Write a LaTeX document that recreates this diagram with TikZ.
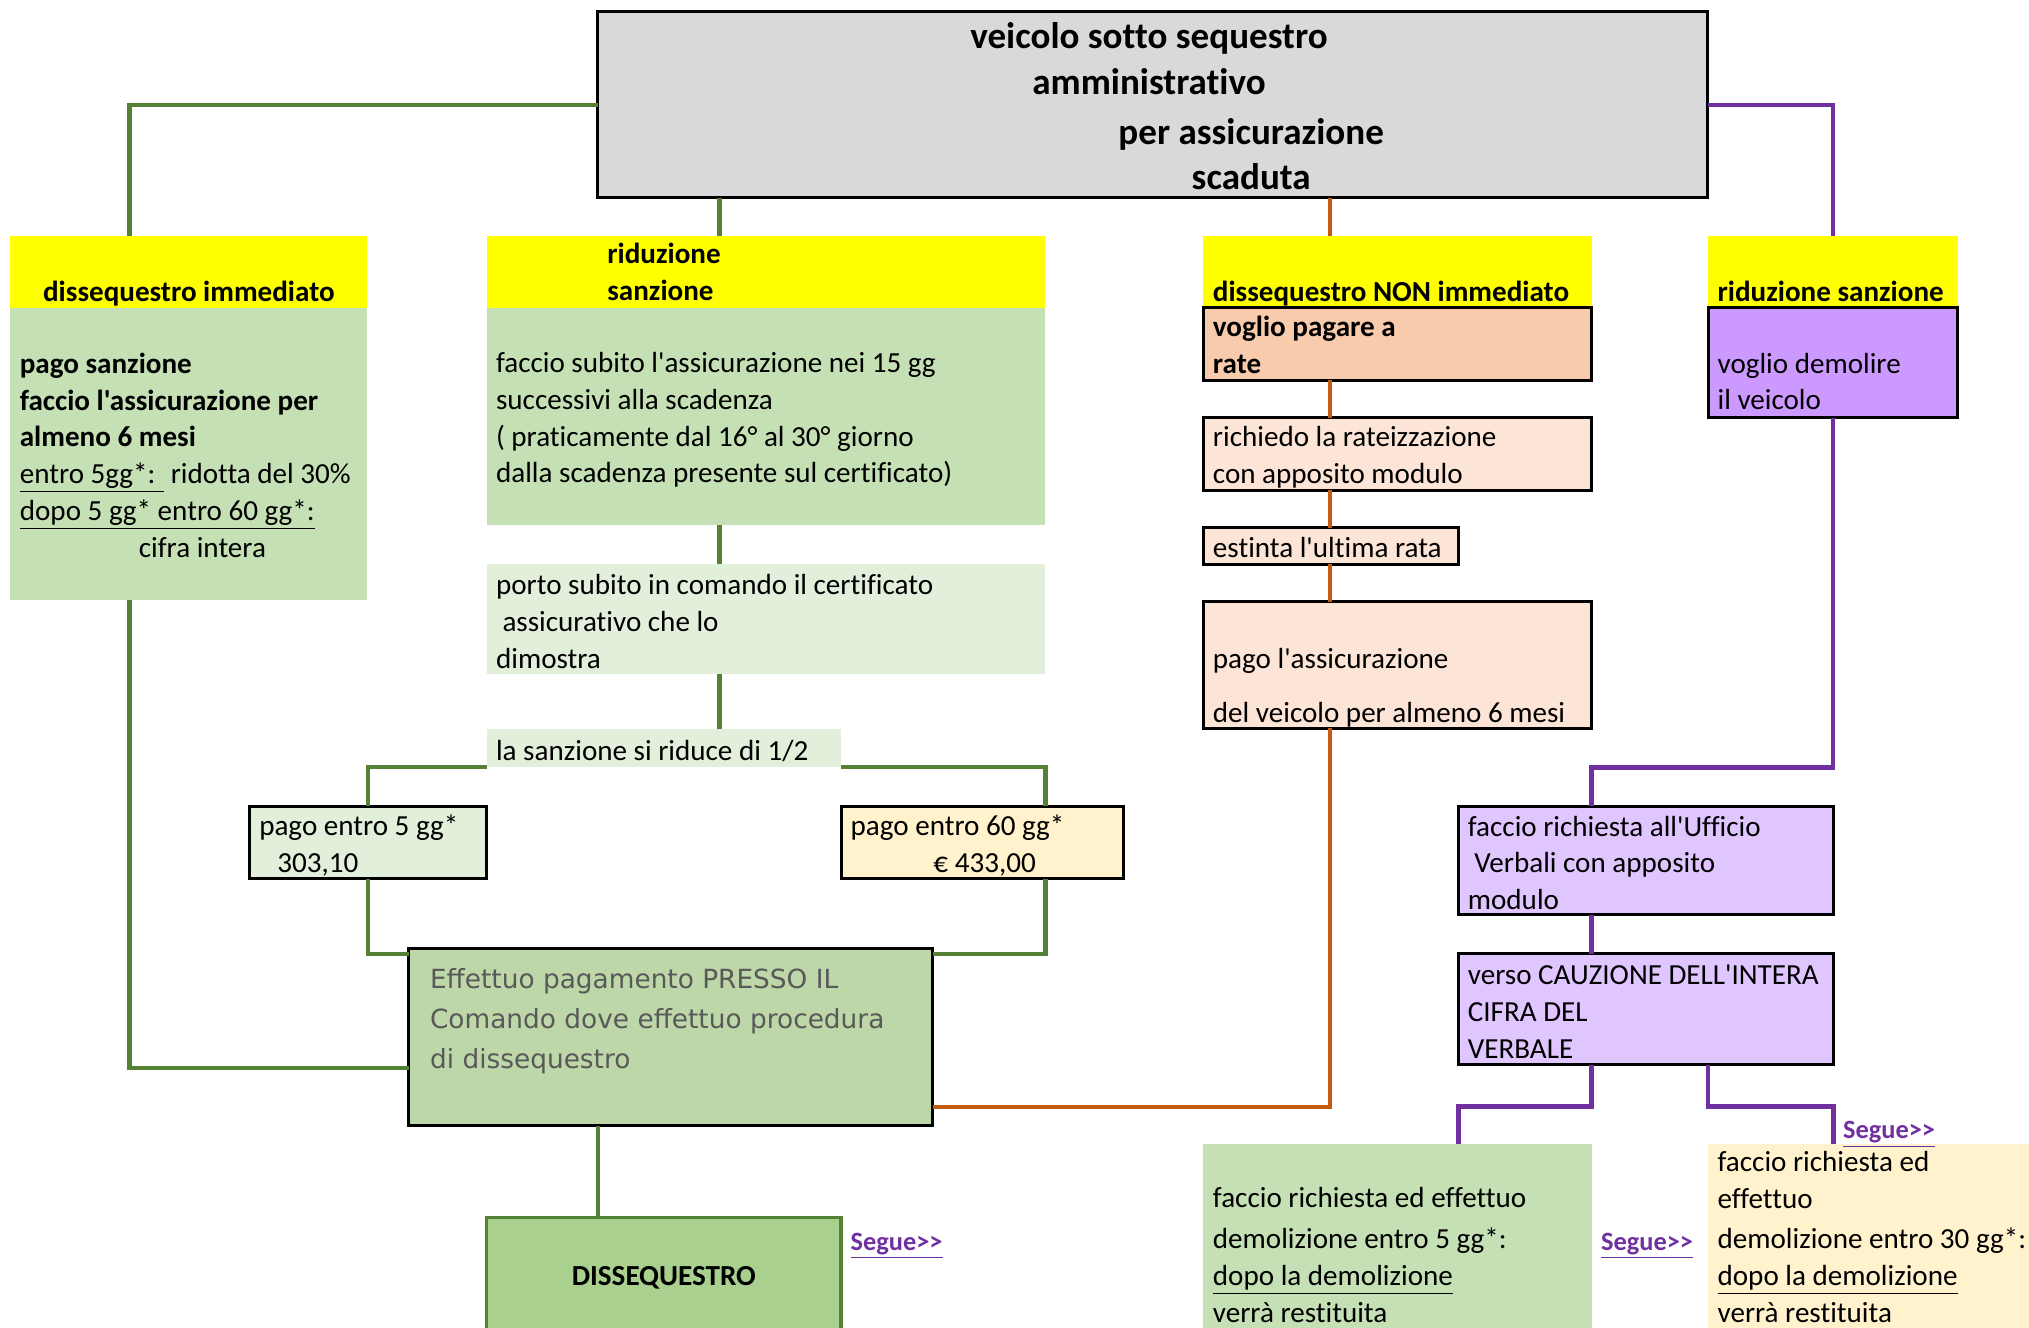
\documentclass[tikz,border=0pt]{standalone}
\usepackage{fontspec}
\setmainfont{Carlito}[Ligatures={TeXOff,CommonOff}]
\newfontfamily\effont{DejaVu Sans}
\usetikzlibrary{calc}

\definecolor{grigio}{HTML}{D9D9D9}
\definecolor{giallo}{HTML}{FFFF00}
\definecolor{verde}{HTML}{C5E0B4}
\definecolor{verdechiaro}{HTML}{E2EFDA}
\definecolor{verdescuro}{HTML}{BDD7A8}
\definecolor{verdedis}{HTML}{A9D08E}
\definecolor{crema}{HTML}{FFF2CC}
\definecolor{pesca}{HTML}{F8CBAD}
\definecolor{pescachiaro}{HTML}{FCE4D6}
\definecolor{lilla}{HTML}{CC99FF}
\definecolor{lillachiaro}{HTML}{E0C6FF}
\definecolor{lineaverde}{HTML}{548235}
\definecolor{lineaarancio}{HTML}{C55A11}
\definecolor{lineaviola}{HTML}{7030A0}
\definecolor{testogrigio}{HTML}{595959}

\tikzset{
	cella/.style={anchor=north west, inner sep=0pt, outer sep=0pt},
	bordo/.style={cella, draw=black, line width=1.3pt},
	testo/.style={anchor=west, align=left, inner sep=0pt, yshift=-0.1cm, font=\fontsize{12.8pt}{16.2pt}\selectfont, execute at begin node=\strut, execute at end node=\strut},
	grassetto/.style={testo, font=\fontsize{12.8pt}{16.2pt}\selectfont\bfseries},
	segue/.style={anchor=west, inner sep=0pt, yshift=-0.08cm, text=lineaviola, font=\fontsize{11.6pt}{14pt}\selectfont\bfseries},
	verdelinea/.style={draw=lineaverde, line width=1.9pt},
	aranciolinea/.style={draw=lineaarancio, line width=1.9pt},
	violalinea/.style={draw=lineaviola, line width=1.9pt}
}

\begin{document}
\begin{tikzpicture}[x=0.02cm, y=-0.02cm]
		%%%%% START %%%%%
		\useasboundingbox (0,0) rectangle (1568,1026);
		\clip (0,0) rectangle (1568,1026);
		
		\node[bordo, fill=grigio, minimum width=17.16cm, minimum height=2.88cm] (veicolo) at (462,9) {};
		\node[grassetto, anchor=center, align=center, font=\fontsize{16.3pt}{19.9pt}\selectfont\bfseries] (veicolot) at ($(veicolo.center)+(-3,1.5)$) {veicolo sotto sequestro\\amministrativo\\[0.08cm]\hspace*{3.16cm}per assicurazione\\\hspace*{3.16cm}scaduta};
		
		\node[cella, fill=giallo, minimum width=5.52cm, minimum height=1.12cm] (imm) at (8,182) {};
		\node[grassetto, anchor=center] (immt) at ($(imm.center)+(0,12)$) {dissequestro immediato};
		\node[cella, fill=verde, minimum width=5.52cm, minimum height=4.52cm] (immc) at (8,238) {};
		\node[testo] (immct) at ($(immc.west)+(7,0)$) {\textbf{pago sanzione}\\\textbf{faccio l'assicurazione per}\\\textbf{almeno 6 mesi}\\\underline{entro 5gg*: }\ ridotta del 30\%\\\underline{dopo 5 gg* entro 60 gg*:}\\\hspace*{1.84cm}cifra intera};
		
		\node[cella, fill=giallo, minimum width=8.64cm, minimum height=1.12cm] (rid) at (376,182) {};
		\node[grassetto] (ridt) at ($(rid.west)+(93,-1)$) {riduzione\\sanzione};
		\node[cella, fill=verde, minimum width=8.64cm, minimum height=3.36cm] (ridc) at (376,238) {};
		\node[testo] (ridct) at ($(ridc.west)+(7,0)$) {faccio subito l'assicurazione nei 15 gg\\successivi alla scadenza\\( praticamente dal 16° al 30° giorno\\dalla scadenza presente sul certificato)};
		\node[cella, fill=verdechiaro, minimum width=8.64cm, minimum height=1.70cm] (porto) at (376,436) {};
		\node[testo] (portot) at ($(porto.west)+(7,1)$) {porto subito in comando il certificato\\\hspace*{0.1cm}assicurativo che lo\\dimostra};
		\node[cella, fill=verdechiaro, minimum width=5.48cm, minimum height=0.60cm] (meta) at (376,563) {};
		\node[testo] (metat) at ($(meta.west)+(7,-1)$) {la sanzione si riduce di 1/2};
		
		\node[bordo, fill=verdechiaro, minimum width=3.66cm, minimum height=1.12cm] (cinque) at (193,623) {};
		\node[testo] (cinquet) at ($(cinque.west)+(7,0)$) {pago entro 5 gg*\\\hspace*{0.28cm}303,10};
		\node[bordo, fill=crema, minimum width=4.36cm, minimum height=1.12cm] (sessanta) at (650,623) {};
		\node[testo] (sessantat) at ($(sessanta.west)+(7,0)$) {pago entro 60 gg*\\\hspace*{1.28cm}€ 433,00};
		
		\node[bordo, fill=verdescuro, minimum width=8.10cm, minimum height=2.74cm] (paga) at (316,733) {};
		\node[testo, text=testogrigio, font=\effont\fontsize{11.6pt}{17.6pt}\selectfont] (pagat) at ($(paga.west)+(16,-15)$) {Effettuo pagamento PRESSO IL\\Comando dove effettuo procedura\\di dissequestro};
		\node[cella, draw=lineaverde, line width=1.6pt, fill=verdedis, minimum width=5.48cm, minimum height=1.90cm] (disseq) at (376,941) {};
		\node[grassetto, anchor=center] (disseqt) at ($(disseq.north)+(0,42)$) {DISSEQUESTRO};
		\node[segue] (segue1) at (657,959) {\underline{Segue>>}};
		
		\node[cella, fill=giallo, minimum width=6cm, minimum height=1.12cm] (nonimm) at (930,182) {};
		\node[grassetto] (nonimmt) at ($(nonimm.west)+(7,12)$) {dissequestro NON immediato};
		\node[bordo, fill=pesca, minimum width=6cm, minimum height=1.12cm] (rate) at (930,238) {};
		\node[grassetto] (ratet) at ($(rate.west)+(7,0)$) {voglio pagare a\\rate};
		\node[bordo, fill=pescachiaro, minimum width=6cm, minimum height=1.12cm] (richiedo) at (930,323) {};
		\node[testo] (richiedot) at ($(richiedo.west)+(7,0)$) {richiedo la rateizzazione\\con apposito modulo};
		\node[bordo, fill=pescachiaro, minimum width=3.94cm, minimum height=0.56cm] (estinta) at (930,408) {};
		\node[testo] (estintat) at ($(estinta.west)+(7,-2)$) {estinta l'ultima rata};
		\node[bordo, fill=pescachiaro, minimum width=6cm, minimum height=1.96cm] (assic) at (930,465) {};
		\node[testo] (assict) at ($(assic.west)+(7,15)$) {pago l'assicurazione\\[0.27cm]del veicolo per almeno 6 mesi};
		
		\node[cella, fill=giallo, minimum width=3.86cm, minimum height=1.12cm] (demol) at (1320,182) {};
		\node[grassetto] (demolt) at ($(demol.west)+(7,12)$) {riduzione sanzione};
		\node[bordo, fill=lilla, minimum width=3.86cm, minimum height=1.70cm] (voglio) at (1320,238) {};
		\node[testo] (vogliot) at ($(voglio.west)+(7,13.5)$) {voglio demolire\\il veicolo};
		\node[bordo, fill=lillachiaro, minimum width=5.80cm, minimum height=1.68cm] (ufficio) at (1127,623) {};
		\node[testo] (ufficiot) at ($(ufficio.west)+(7,1)$) {faccio richiesta all'Ufficio\\\hspace*{0.1cm}Verbali con apposito\\modulo};
		\node[bordo, fill=lillachiaro, minimum width=5.80cm, minimum height=1.72cm] (cauzione) at (1127,737) {};
		\node[testo] (cauzionet) at ($(cauzione.west)+(7,1)$) {verso CAUZIONE DELL'INTERA\\CIFRA DEL\\VERBALE};
		
		\node[cella, fill=verde, minimum width=6cm, minimum height=2.84cm] (entro5) at (930,884) {};
		\node[testo] (entro5t) at ($(entro5.west)+(7,14)$) {faccio richiesta ed effettuo\\[0.06cm]demolizione entro 5 gg*:\\\underline{dopo la demolizione}\\verrà restituita};
		\node[segue] (segue2) at (1237,959) {\underline{Segue>>}};
		\node[cella, fill=crema, minimum width=4.96cm, minimum height=2.84cm] (entro30) at (1320,884) {};
		\node[testo] (entro30t) at ($(entro30.west)+(7,0)$) {faccio richiesta ed\\effettuo\\[0.06cm]demolizione entro 30 gg*:\\\underline{dopo la demolizione}\\verrà restituita};
		\node[segue] (segue3) at (1424,873) {\underline{Segue>>}};
		
		\coordinate (xa) at (100,0);
		\coordinate (xb) at (556,0);
		\coordinate (xc) at (1028,0);
		\coordinate (xd) at (1417,0);
		\coordinate (xf) at (808,0);
		\coordinate (xg) at (462,0);
		\coordinate (xh) at (1230,0);
		\coordinate (xi) at (1127,0);
		\coordinate (xj) at (1320,0);
		
		\draw[verdelinea] (veicolo.west) -| (imm.north -| xa);
		\draw[verdelinea] (veicolo.south -| xb) -- (rid.north -| xb);
		\draw[aranciolinea] (veicolo.south -| xc) -- (nonimm.north -| xc);
		\draw[violalinea] (veicolo.east) -| (demol.north);
		
		\draw[verdelinea] (immc.south -| xa) |- ($(paga.west)+(0,24)$);
		\draw[verdelinea] (ridc.south -| xb) -- (porto.north -| xb);
		\draw[verdelinea] (porto.south -| xb) -- (meta.north -| xb);
		\draw[verdelinea] (meta.south west) -| (cinque.north);
		\draw[verdelinea] (meta.south east) -| (sessanta.north -| xf);
		\draw[verdelinea] (cinque.south) |- ($(paga.north west)+(0,4)$);
		\draw[verdelinea] (sessanta.south -| xf) |- ($(paga.north east)+(0,4)$);
		\draw[verdelinea] (paga.south -| xg) -- (disseq.north -| xg);
		
		\draw[aranciolinea] (rate.south -| xc) -- (richiedo.north -| xc);
		\draw[aranciolinea] (richiedo.south -| xc) -- (estinta.north -| xc);
		\draw[aranciolinea] (estinta.south -| xc) -- (assic.north -| xc);
		\draw[aranciolinea] ($(paga.east)+(0,54)$) -| (assic.south -| xc);
		
		\draw[violalinea] (voglio.south) |- ($(ufficio.north -| xh)+(0,-30)$) -- (ufficio.north -| xh);
		\draw[violalinea] (ufficio.south -| xh) -- (cauzione.north -| xh);
		\draw[violalinea] (cauzione.south -| xh) -- ++(0,32) -| (entro5.north -| xi);
		\draw[violalinea] (cauzione.south -| xj) -- ++(0,32) -| (entro30.north -| xd);
		
		%%%%% END %%%%%
\end{tikzpicture}
\end{document}
